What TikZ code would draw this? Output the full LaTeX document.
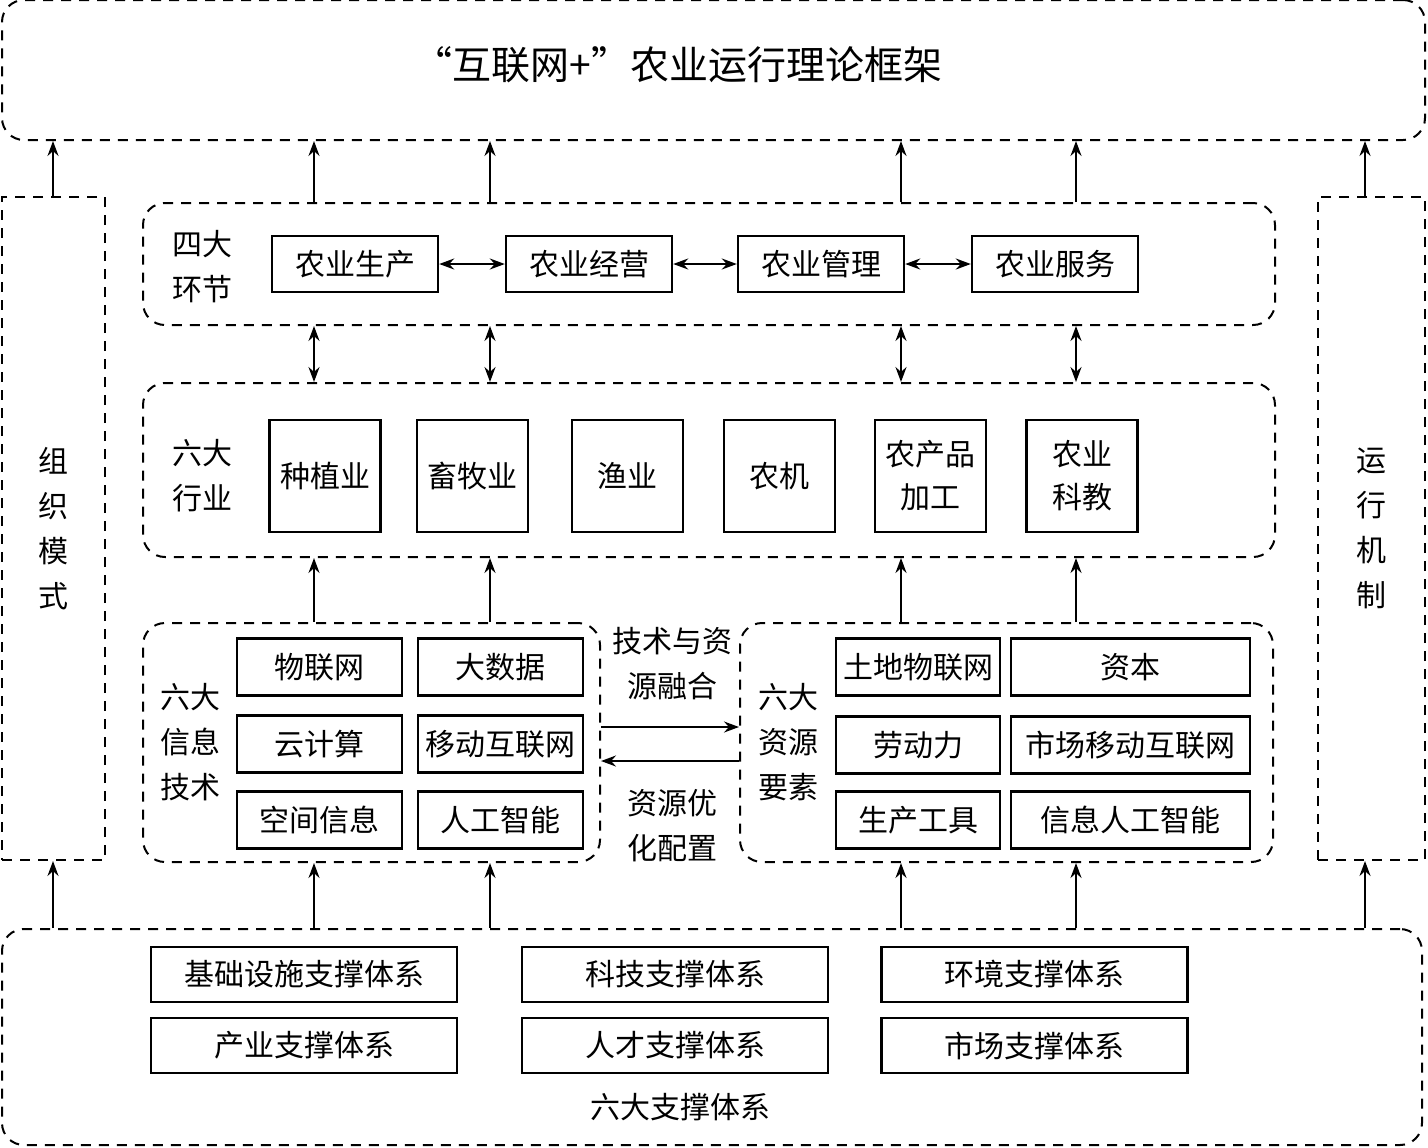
\documentclass[tikz,border=0pt]{standalone}
\usepackage{fontspec}
\setmainfont{Noto Sans CJK SC}
\usetikzlibrary{arrows.meta}

\tikzset{
  dashbox/.style={draw, dash pattern=on 5pt off 4pt, line width=1pt, rounded corners=11pt, inner sep=0pt},
  box/.style={draw, line width=1.2pt, inner sep=0pt, align=center, font=\fontsize{15}{21.5}\selectfont},
  stage/.style={box, minimum width=83pt, minimum height=28pt},
  trade/.style={box, minimum width=55.5pt, minimum height=56pt},
  tech/.style={box, minimum width=82.5pt, minimum height=28.5pt},
  support/.style={box, minimum width=153pt, minimum height=27.5pt},
  lbl/.style={align=center, inner sep=0pt, font=\fontsize{15}{22.5}\selectfont},
  tip/.style={Stealth[length=7.5pt,width=5.5pt,inset=2.5pt]},
  link/.style={-{Stealth[length=7.5pt,width=5.5pt,inset=2.5pt]}, line width=1.1pt},
  dlink/.style={{Stealth[length=7.5pt,width=5.5pt,inset=2.5pt]}-{Stealth[length=7.5pt,width=5.5pt,inset=2.5pt]}, line width=1.1pt},
}

\begin{document}
\begin{tikzpicture}[x=0.5pt,y=-0.5pt]
  \useasboundingbox (0,0) rectangle (1428,1147);

  % frames
  \node[dashbox, minimum width=711.5pt, minimum height=70pt] (kuangjia) at (713.5,70) {};
  \node[inner sep=0pt, font=\fontsize{19.5}{19.5}\selectfont] (title) at (678,65) {“互联网+”农业运行理论框架};
  \node[dashbox, sharp corners, lbl, minimum width=51.5pt, minimum height=331.5pt] (zuzhi) at (53.5,528.5) {组\\织\\模\\式};
  \node[dashbox, sharp corners, lbl, minimum width=53.5pt, minimum height=331.5pt] (yunxing) at (1371.5,528.5) {运\\行\\机\\制};
  \node[dashbox, minimum width=566pt, minimum height=61pt] (sida) at (709,264) {};
  \node[dashbox, minimum width=566pt, minimum height=87pt] (hangye) at (709,470) {};
  \node[dashbox, minimum width=228.5pt, minimum height=119.5pt] (xinxi) at (371.5,742.5) {};
  \node[dashbox, minimum width=266.5pt, minimum height=119.5pt] (ziyuan) at (1006.5,742.5) {};
  \node[dashbox, minimum width=710pt, minimum height=108pt] (zhicheng) at (712,1037) {};

  % four links
  \node[lbl] (sidaLbl) at (202,267) {四大\\环节};
  \node[stage] (shengchan) at (355,264) {农业生产};
  \node[stage] (jingying) at (589,264) {农业经营};
  \node[stage] (guanli) at (821,264) {农业管理};
  \node[stage] (fuwu) at (1055,264) {农业服务};
  \draw[dlink] (shengchan) -- (jingying);
  \draw[dlink] (jingying) -- (guanli);
  \draw[dlink] (guanli) -- (fuwu);

  % six trades
  \node[lbl] (hangyeLbl) at (202,476) {六大\\行业};
  \node[trade] (zhongzhi) at (325,476) {种植业};
  \node[trade] (xumu) at (472.5,476) {畜牧业};
  \node[trade] (yuye) at (627.5,476) {渔业};
  \node[trade] (nongji) at (779.5,476) {农机};
  \node[trade] (jiagong) at (930.5,476) {农产品\\加工};
  \node[trade] (kejiao) at (1082,476) {农业\\科教};

  % six technologies
  \node[lbl] (xinxiLbl) at (190,742) {六大\\信息\\技术};
  \node[tech] (wulian) at (319.5,667) {物联网};
  \node[tech] (dashuju) at (500.5,667) {大数据};
  \node[tech] (yunjisuan) at (319.5,744) {云计算};
  \node[tech] (yidong) at (500.5,744) {移动互联网};
  \node[tech] (kongjian) at (319.5,820) {空间信息};
  \node[tech] (rengong) at (500.5,820) {人工智能};

  % six resources
  \node[lbl] (ziyuanLbl) at (788,742) {六大\\资源\\要素};
  \node[tech, minimum width=82pt] (tudi) at (918,667) {土地物联网};
  \node[tech, minimum width=119.5pt] (ziben) at (1130.5,667) {资本};
  \node[tech, minimum width=82pt] (laodong) at (918,745) {劳动力};
  \node[tech, minimum width=119.5pt] (shichang) at (1130.5,745) {市场移动互联网};
  \node[tech, minimum width=82pt] (gongju) at (918,820) {生产工具};
  \node[tech, minimum width=119.5pt] (xinxirg) at (1130.5,820) {信息人工智能};

  % middle
  \node[lbl] (ronghe) at (672,663.5) {技术与资\\源融合};
  \node[lbl] (youhua) at (672,825.5) {资源优\\化配置};
  \coordinate (m1) at (0,727);
  \coordinate (m2) at (0,761);
  \draw[link] (xinxi.east |- m1) -- (ziyuan.west |- m1);
  \draw[link] (ziyuan.west |- m2) -- (xinxi.east |- m2);

  % six supports
  \node[support] (jichu) at (304,974.5) {基础设施支撑体系};
  \node[support] (keji) at (675,974.5) {科技支撑体系};
  \node[support] (huanjing) at (1034.5,974.5) {环境支撑体系};
  \node[support] (chanye) at (304,1045.5) {产业支撑体系};
  \node[support] (rencai) at (675,1045.5) {人才支撑体系};
  \node[support] (shichangzc) at (1034.5,1045.5) {市场支撑体系};
  \node[lbl] (zhichengLbl) at (680,1107) {六大支撑体系};

  % vertical connectors
  \coordinate (c0) at (53,0);
  \coordinate (c1) at (314,0);
  \coordinate (c2) at (490,0);
  \coordinate (c3) at (901,0);
  \coordinate (c4) at (1076,0);
  \coordinate (c5) at (1365,0);
  \draw[link] (zuzhi.north -| c0) -- (kuangjia.south -| c0);
  \draw[link] (yunxing.north -| c5) -- (kuangjia.south -| c5);
  \foreach \c in {c1,c2,c3,c4} {
    \draw[link] (sida.north -| \c) -- (kuangjia.south -| \c);
    \draw[dlink] (sida.south -| \c) -- (hangye.north -| \c);
  }
  \draw[link] (xinxi.north -| c1) -- (hangye.south -| c1);
  \draw[link] (xinxi.north -| c2) -- (hangye.south -| c2);
  \draw[link] (ziyuan.north -| c3) -- (hangye.south -| c3);
  \draw[link] (ziyuan.north -| c4) -- (hangye.south -| c4);
  \draw[link] (zhicheng.north -| c0) -- (zuzhi.south -| c0);
  \draw[link] (zhicheng.north -| c1) -- (xinxi.south -| c1);
  \draw[link] (zhicheng.north -| c2) -- (xinxi.south -| c2);
  \draw[link] (zhicheng.north -| c3) -- (ziyuan.south -| c3);
  \draw[link] (zhicheng.north -| c4) -- (ziyuan.south -| c4);
  \draw[link] (zhicheng.north -| c5) -- (yunxing.south -| c5);
\end{tikzpicture}
\end{document}
